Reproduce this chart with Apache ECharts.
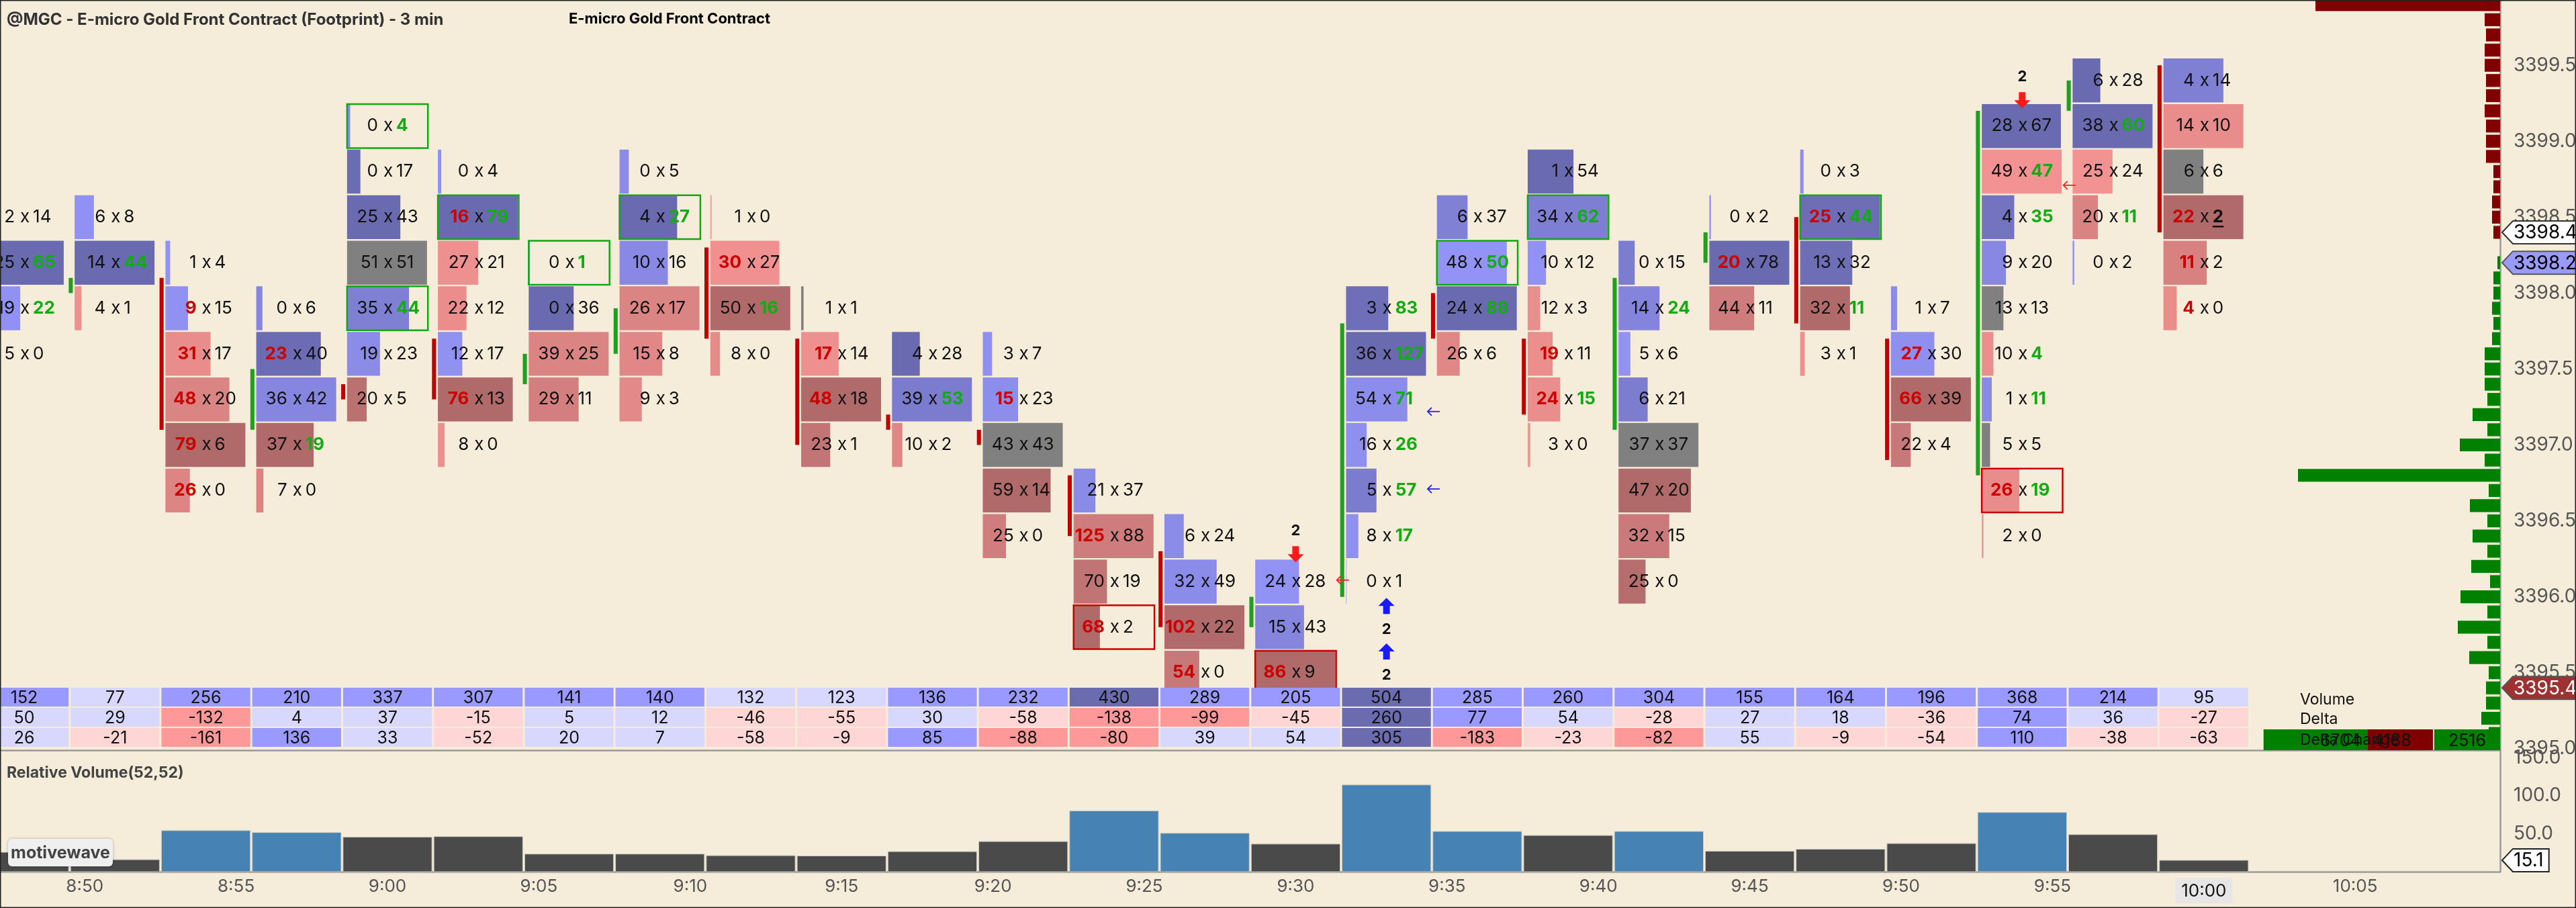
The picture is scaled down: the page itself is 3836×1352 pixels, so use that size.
<!DOCTYPE html>
<html>
<head>
<meta charset="utf-8">
<title>@MGC Footprint - 3 min</title>
<script src="https://cdn.jsdelivr.net/npm/echarts@6.0.0/dist/echarts.min.js"></script>
<style>
  html, body { margin: 0; padding: 0; background: #f5ecda; }
  #chart { width: 3836px; height: 1352px; }
</style>
</head>
<body>
<div id="chart"></div>
<script>
// 3 minute bars, minutes after midnight (8:48 ... 10:00)
const barTimes = [528, 531, 534, 537, 540, 543, 546, 549, 552, 555, 558, 561, 564,
  567, 570, 573, 576, 579, 582, 585, 588, 591, 594, 597, 600];

// price of the top footprint row of every bar (rows are 0.3 apart)
const rowTop = [3398.5, 3398.5, 3398.2, 3397.9, 3399.1, 3398.8, 3398.2, 3398.8, 3398.5,
  3397.9, 3397.6, 3397.6, 3396.7, 3396.4, 3396.1, 3397.9, 3398.5, 3398.8, 3398.2,
  3398.5, 3398.8, 3397.9, 3399.1, 3399.4, 3399.4];

// bid x ask per row, top to bottom
const footprint = [
  [[2, 14], [25, 65], [19, 22], [5, 0]],
  [[6, 8], [14, 44], [4, 1]],
  [[1, 4], [9, 15], [31, 17], [48, 20], [79, 6], [26, 0]],
  [[0, 6], [23, 40], [36, 42], [37, 19], [7, 0]],
  [[0, 4], [0, 17], [25, 43], [51, 51], [35, 44], [19, 23], [20, 5]],
  [[0, 4], [16, 79], [27, 21], [22, 12], [12, 17], [76, 13], [8, 0]],
  [[0, 1], [0, 36], [39, 25], [29, 11]],
  [[0, 5], [4, 27], [10, 16], [26, 17], [15, 8], [9, 3]],
  [[1, 0], [30, 27], [50, 16], [8, 0]],
  [[1, 1], [17, 14], [48, 18], [23, 1]],
  [[4, 28], [39, 53], [10, 2]],
  [[3, 7], [15, 23], [43, 43], [59, 14], [25, 0]],
  [[21, 37], [125, 88], [70, 19], [68, 2]],
  [[6, 24], [32, 49], [102, 22], [54, 0]],
  [[24, 28], [15, 43], [86, 9]],
  [[3, 83], [36, 127], [54, 71], [16, 26], [5, 57], [8, 17], [0, 1]],
  [[6, 37], [48, 50], [24, 88], [26, 6]],
  [[1, 54], [34, 62], [10, 12], [12, 3], [19, 11], [24, 15], [3, 0]],
  [[0, 15], [14, 24], [5, 6], [6, 21], [37, 37], [47, 20], [32, 15], [25, 0]],
  [[0, 2], [20, 78], [44, 11]],
  [[0, 3], [25, 44], [13, 32], [32, 11], [3, 1]],
  [[1, 7], [27, 30], [66, 39], [22, 4]],
  [[28, 67], [49, 47], [4, 35], [9, 20], [13, 13], [10, 4], [1, 11], [5, 5], [26, 19], [2, 0]],
  [[6, 28], [38, 60], [25, 24], [20, 11], [0, 2]],
  [[4, 14], [14, 10], [6, 6], [22, 2], [11, 2], [4, 0]]
];

// open / close of each bar (first bar is off screen)
const barOpen = [null, 3398.0, 3398.1, 3397.1, 3397.4, 3397.7, 3397.4, 3397.6, 3398.3, 3397.7,
  3397.2, 3397.1, 3396.8, 3396.3, 3395.8, 3396.0, 3398.0, 3397.7, 3397.1, 3398.2, 3398.5,
  3397.7, 3396.8, 3399.2, 3399.5];
const barClose = [null, 3398.1, 3397.1, 3397.5, 3397.3, 3397.3, 3397.6, 3397.9, 3397.7, 3397.0,
  3397.1, 3397.0, 3396.4, 3395.8, 3396.0, 3397.8, 3397.7, 3397.2, 3398.1, 3398.4, 3397.8,
  3396.9, 3399.2, 3399.4, 3398.4];

// outlined cells: [bar index, row price]
const greenBoxes = [[4, 3399.1], [4, 3397.9], [5, 3398.5], [6, 3398.2], [7, 3398.5],
  [16, 3398.2], [17, 3398.5], [20, 3398.5]];
const redBoxes = [[12, 3395.8], [14, 3395.5], [22, 3396.7]];

// signal arrows: [bar index, price, direction (1 buy / -1 sell), count]
const signalArrows = [[14, 3396.28, -1, 2], [15, 3395.94, 1, 2], [15, 3395.64, 1, 2], [22, 3399.27, -1, 2]];
// small marks at the right edge of a bar: [bar index, price, side]
const sideMarks = [[14, 3396.11, -1], [15, 3397.22, 1], [15, 3396.71, 1], [22, 3398.71, -1]];

const tableVolume = [152, 77, 256, 210, 337, 307, 141, 140, 132, 123, 136, 232, 430, 289, 205,
  504, 285, 260, 304, 155, 164, 196, 368, 214, 95];
const tableDelta = [50, 29, -132, 4, 37, -15, 5, 12, -46, -55, 30, -58, -138, -99, -45,
  260, 77, 54, -28, 27, 18, -36, 74, 36, -27];
const tableDeltaChange = [26, -21, -161, 136, 33, -52, 20, 7, -58, -9, 85, -88, -80, 39, 54,
  305, -183, -23, -82, 55, -9, -54, 110, -38, -63];
const tableRows = ['Volume', 'Delta', 'Delta Change'];

const relVolume = [25.7, 15.9, 54.2, 51.6, 45.7, 46.3, 23.3, 23.3, 21.2, 20.8, 26.5, 39.8, 80.2,
  50.7, 36.5, 114.4, 53.1, 47.8, 53.1, 27.1, 29.7, 37.2, 78.1, 48.9, 15.1];

// delta profile at 0.1 steps from the top price down
const profileTop = 3399.9;
const profileDelta = [-27.5, -2.3, -2.1, -2.3, -2.3, -2.1, -2.1, -2.3, -2.1, -2.1, -2.1,
  -1.0, -1.0, -1.2, -1.2, -1.0, 0, 0.4, 1.0, 1.0, 1.2, 1.0, 1.2, 2.3, 2.3, 2.3, 1.9, 4.1,
  1.9, 6.0, 2.3, 30.1, 1.7, 4.5, 1.9, 4.1, 1.9, 4.3, 1.5, 5.9, 1.9, 6.3, 1.9, 4.6, 1.7,
  2.1, 2.1, 2.8, 1.7];
const sessionAsk = 6704, sessionBid = 4188, sessionDelta = 2516;

const otherPriceMarks = [3398.2, 3395.4];
const priceTicks = [3395.0, 3395.5, 3396.0, 3396.5, 3397.0, 3397.5, 3398.0, 3398.5, 3399.0, 3399.5];
const relVolTicks = [50, 100, 150];
const timeTicks = [530, 535, 540, 545, 550, 555, 560, 565, 570, 575, 580, 585, 590, 595, 600, 605];

// ---- layout / scales ----
const X_MIN = 527.2, X_MAX = 609.787;
const P_MIN = 3394.99, P_MAX = 3399.93;
const ROW = 0.3, TICK = 0.1, IMB = 2;
const FONT = 'Inter, "Noto Sans", sans-serif';
const PLOT_W = 3723;

const BLUE_L = [148, 148, 248], BLUE_D = [106, 106, 176];
const RED_L = [246, 148, 148], RED_D = [176, 106, 106];

function mix(a, b, t) {
  const c = a.map((v, i) => Math.round(v + (b[i] - v) * t));
  return 'rgb(' + c.join(',') + ')';
}
const measureCtx = document.createElement('canvas').getContext('2d');
function textWidth(text, font) { measureCtx.font = font; return measureCtx.measureText(text).width; }
function hm(v) { const h = Math.floor(v / 60), m = Math.round(v % 60); return h + ':' + (m < 10 ? '0' : '') + m; }

const lastIdx = barTimes.length - 1;
const lastPrice = barClose[lastIdx];

const cellData = [];
footprint.forEach((rows, i) => {
  const colMax = Math.max(...rows.map(r => r[0] + r[1]));
  const maxDelta = Math.max(...rows.map(r => Math.abs(r[1] - r[0])));
  rows.forEach((r, k) => {
    const price = +(rowTop[i] - k * ROW).toFixed(1);
    const above = rows[k - 1], below = rows[k + 1];
    const bidImb = above && r[0] > 0 && r[0] >= IMB * above[1] ? 1 : 0;
    const askImb = below && r[1] > 0 && r[1] >= IMB * below[0] ? 1 : 0;
    const isLast = i === lastIdx && Math.abs(lastPrice - price) < ROW / 2 ? 1 : 0;
    cellData.push([barTimes[i], price, r[0], r[1], (r[0] + r[1]) / colMax,
      maxDelta ? Math.abs(r[1] - r[0]) / maxDelta : 0, bidImb, askImb, isLast]);
  });
});

function renderCell(params, api) {
  const t = api.value(0), p = api.value(1), bid = api.value(2), ask = api.value(3);
  const frac = api.value(4), shade = api.value(5);
  const bidImb = api.value(6), askImb = api.value(7), isLast = api.value(8);
  const c = api.coord([t, p]);
  const colW = api.size([3, 0])[0];
  const rowH = api.size([0, ROW])[1];
  const left = c[0] - 0.445 * colW;
  let fill = '#808080';
  if (ask > bid) fill = mix(BLUE_L, BLUE_D, shade);
  else if (bid > ask) fill = mix(RED_L, RED_D, shade);
  const txt = (s, x, align, color, bold) => ({
    type: 'text',
    style: { text: s, x: x, y: c[1], align: align, verticalAlign: 'middle', fill: color,
      fontSize: 26, fontFamily: FONT, fontWeight: bold ? 'bold' : 'normal' }
  });
  const children = [
    { type: 'rect', shape: { x: left, y: c[1] - rowH / 2 + 1.2, width: frac * 0.88 * colW, height: rowH - 2.4 }, style: { fill: fill } },
    txt(String(bid), c[0] - 14, 'right', bidImb ? '#cc0000' : '#111', bidImb),
    txt('x', c[0] + 1, 'center', '#111', false),
    txt(String(ask), c[0] + 13, 'left', askImb ? '#12ac12' : '#111', askImb || isLast)
  ];
  if (isLast) {
    const w = textWidth(String(ask), 'bold 26px ' + FONT);
    children.push({ type: 'line', shape: { x1: c[0] + 13, y1: c[1] + 14, x2: c[0] + 13 + w, y2: c[1] + 14 }, style: { stroke: '#111', lineWidth: 2.5 } });
  }
  return { type: 'group', children: children };
}

function renderBody(params, api) {
  const t = api.value(0), o = api.value(1), cl = api.value(2);
  const a = api.coord([t, o]), b = api.coord([t, cl]);
  const colW = api.size([3, 0])[0];
  return {
    type: 'rect',
    shape: { x: a[0] - 0.51 * colW, y: Math.min(a[1], b[1]), width: 0.045 * colW, height: Math.max(Math.abs(a[1] - b[1]), 3) },
    style: { fill: cl > o ? '#1fa01f' : cl < o ? '#c00000' : '#808080' }
  };
}

function renderBox(params, api) {
  const c = api.coord([api.value(0), api.value(1)]);
  const colW = api.size([3, 0])[0];
  const rowH = api.size([0, ROW])[1];
  return {
    type: 'rect',
    shape: { x: c[0] - 0.445 * colW, y: c[1] - rowH / 2 + 1.2, width: 0.89 * colW, height: rowH - 2.4 },
    style: { fill: null, stroke: api.value(2) > 0 ? '#12a812' : '#c80000', lineWidth: 2.5 }
  };
}

function renderArrow(params, api) {
  const c = api.coord([api.value(0), api.value(1)]);
  const d = api.value(2);
  const pts = [[-5, -12], [5, -12], [5, 0], [12, 0], [0, 12], [-12, 0], [-5, 0]]
    .map(q => [c[0] + q[0], c[1] - d * q[1]]);
  return {
    type: 'group',
    children: [
      { type: 'polygon', shape: { points: pts }, style: { fill: d > 0 ? '#1a1aff' : '#ff1a1a' } },
      { type: 'text', style: { text: String(api.value(3)), x: c[0], y: c[1] + d * 35, align: 'center', verticalAlign: 'middle',
        fill: '#111', fontSize: 22, fontWeight: 'bold', fontFamily: FONT } }
    ]
  };
}

function renderSideMark(params, api) {
  const colW = api.size([3, 0])[0];
  const c = api.coord([api.value(0), api.value(1)]);
  const x = c[0] + 0.52 * colW, y = c[1];
  const color = api.value(2) > 0 ? '#2020ff' : '#ff2020';
  return {
    type: 'group',
    children: [
      { type: 'line', shape: { x1: x - 9, y1: y, x2: x + 9, y2: y }, style: { stroke: color, lineWidth: 1.8 } },
      { type: 'polyline', shape: { points: [[x - 3, y - 6], [x - 9, y], [x - 3, y + 6]] }, style: { stroke: color, lineWidth: 1.8, fill: null } }
    ]
  };
}

function markerShape(x, y, text, fill, stroke, color) {
  const font = '28px ' + FONT;
  const w = textWidth(text, font) + 28;
  return {
    type: 'group',
    children: [
      { type: 'polygon', shape: { points: [[x + 3, y], [x + 19, y - 17], [x + w, y - 17], [x + w, y + 17], [x + 19, y + 17]] },
        style: { fill: fill, stroke: stroke, lineWidth: 2 } },
      { type: 'text', style: { text: text, x: x + 20, y: y + 1, align: 'left', verticalAlign: 'middle', fill: color, fontSize: 28, fontFamily: FONT } }
    ]
  };
}
function renderPriceMark(params, api) {
  const c = api.coord([X_MAX, api.value(1)]);
  const kind = api.value(2);
  const text = api.value(1).toFixed(1);
  if (kind === 0) return markerShape(c[0], c[1], text, '#ffffff', '#333', '#000');
  if (kind === 1) return markerShape(c[0], c[1], text, '#9a9af8', '#555', '#000');
  return markerShape(c[0], c[1], text, '#9e3232', '#555', '#fff');
}

function renderProfile(params, api) {
  const v = api.value(0), p = api.value(1);
  const a = api.coord([0, p]), b = api.coord([Math.abs(v), p]);
  const h = api.size([0, TICK])[1];
  return {
    type: 'rect',
    shape: { x: b[0], y: a[1] - h / 2 + 1.7, width: a[0] - b[0], height: h - 3.4 },
    style: { fill: v < 0 ? '#800000' : '#008000' }
  };
}

const PALE_BLUE = '#d8d8ff', MID_BLUE = '#9999ff', DARK_BLUE = '#6b6bb0', PALE_RED = '#ffd6d6', MID_RED = '#ff9999';
function volumeColor(v) { return v >= 400 ? DARK_BLUE : v >= 135 ? MID_BLUE : PALE_BLUE; }
function deltaColor(d) {
  if (d >= 200) return DARK_BLUE;
  if (d >= 70) return MID_BLUE;
  if (d >= 0) return PALE_BLUE;
  if (d > -70) return PALE_RED;
  return MID_RED;
}
const tableData = [];
barTimes.forEach((t, i) => {
  tableData.push([t, 0, tableVolume[i]]);
  tableData.push([t, 1, tableDelta[i]]);
  tableData.push([t, 2, tableDeltaChange[i]]);
});
function renderTable(params, api) {
  const t = api.value(0), r = api.value(1), v = api.value(2);
  const a = api.coord([t, r]), b = api.coord([t, r + 1]);
  const colW = api.size([3, 0])[0];
  return {
    type: 'group',
    children: [
      { type: 'rect', shape: { x: a[0] - colW / 2 + 1.5, y: a[1] + 1, width: colW - 3, height: b[1] - a[1] - 2 },
        style: { fill: r === 0 ? volumeColor(v) : deltaColor(v) } },
      { type: 'text', style: { text: String(v), x: a[0], y: (a[1] + b[1]) / 2 + 1, align: 'center', verticalAlign: 'middle',
        fill: '#111', fontSize: 25, fontFamily: FONT } }
    ]
  };
}
function renderTotals(params, api) {
  const ask = api.value(2), bid = api.value(3), delta = api.value(4);
  const top = api.coord([X_MAX, 2]), bot = api.coord([X_MAX, 3]);
  const colW = api.size([3, 0])[0];
  const right = top[0];
  const deltaW = 0.725 * colW, pairW = 1.865 * colW;
  const askW = pairW * ask / (ask + bid);
  const y0 = top[1] + 3, y1 = bot[1] + 4;
  const dLeft = right - deltaW, bLeft = dLeft - 2 - (pairW - askW), aLeft = bLeft - askW;
  const t = (s, x, align) => ({ type: 'text', style: { text: s, x: x, y: (y0 + y1) / 2 + 2, align: align, verticalAlign: 'middle', fill: '#111', fontSize: 25, fontFamily: FONT } });
  return {
    type: 'group',
    children: [
      { type: 'rect', shape: { x: aLeft, y: y0, width: askW, height: y1 - y0 }, style: { fill: '#008000' } },
      { type: 'rect', shape: { x: bLeft, y: y0, width: pairW - askW, height: y1 - y0 }, style: { fill: '#800000' } },
      { type: 'rect', shape: { x: dLeft, y: y0, width: deltaW, height: y1 - y0 }, style: { fill: delta >= 0 ? '#008000' : '#800000' } },
      t(String(ask), bLeft - 10, 'right'),
      t(String(bid), bLeft + 8, 'left'),
      t(String(delta), dLeft + deltaW / 2, 'center')
    ]
  };
}
function renderRelVol(params, api) {
  const t = api.value(0), v = api.value(1);
  const a = api.coord([t, v]), b = api.coord([t, 0]);
  const colW = api.size([3, 0])[0];
  return {
    type: 'rect',
    shape: { x: a[0] - colW / 2 + 1.5, y: a[1], width: colW - 3, height: b[1] - a[1] },
    style: { fill: v >= 50 ? '#4682b4' : '#4a4a4a', stroke: '#c8c8c0', lineWidth: 1 }
  };
}
function renderRelMark(params, api) {
  const c = api.coord([X_MAX, api.value(1)]);
  return markerShape(c[0], c[1], api.value(1).toFixed(1), '#ffffff', '#222', '#000');
}

const option = {
  backgroundColor: '#f5ecda',
  animation: false,
  grid: [
    { left: 0, top: 0, width: PLOT_W, height: 1117, outerBoundsMode: 'none' },
    { left: 0, top: 0, width: PLOT_W, height: 1117, outerBoundsMode: 'none' },
    { left: 0, top: 1023, width: PLOT_W, height: 90, outerBoundsMode: 'none' },
    { left: 0, top: 1117, width: PLOT_W, height: 181, outerBoundsMode: 'none' }
  ],
  xAxis: [
    { type: 'value', gridIndex: 0, min: X_MIN, max: X_MAX, axisLine: { show: true, onZero: false, lineStyle: { color: '#9a9a9a', width: 2.5 } },
      axisTick: { show: false }, axisLabel: { show: false }, splitLine: { show: false } },
    { type: 'value', gridIndex: 1, min: 0, max: PLOT_W / 10, inverse: true, show: false },
    { type: 'value', gridIndex: 2, min: X_MIN, max: X_MAX, show: false },
    { type: 'value', gridIndex: 3, min: X_MIN, max: X_MAX,
      axisLine: { show: true, onZero: false, lineStyle: { color: '#9a9a9a', width: 2.5 } },
      axisTick: { show: false }, splitLine: { show: false },
      axisLabel: {
        customValues: timeTicks, margin: 9, color: '#555', fontSize: 26, fontFamily: FONT,
        formatter: v => v === barTimes[lastIdx] ? '{hl|' + hm(v) + '}' : hm(v),
        rich: { hl: { backgroundColor: '#e6e6e6', color: '#111', fontSize: 26, fontFamily: FONT, padding: [7, 9, 5, 9], borderRadius: 4 } }
      } }
  ],
  yAxis: [
    { type: 'value', gridIndex: 0, position: 'right', min: P_MIN, max: P_MAX,
      axisLine: { show: true, lineStyle: { color: '#9a9a9a', width: 2.5 } }, axisTick: { show: false }, splitLine: { show: false },
      axisLabel: { customValues: priceTicks, formatter: v => v.toFixed(1), color: '#555', fontSize: 28, margin: 20, fontFamily: FONT } },
    { type: 'value', gridIndex: 1, min: P_MIN, max: P_MAX, show: false },
    { type: 'value', gridIndex: 2, min: 0, max: 3, inverse: true, show: false },
    { type: 'value', gridIndex: 3, position: 'right', min: 0, max: 160.2,
      axisLine: { show: true, lineStyle: { color: '#9a9a9a', width: 2.5 } }, axisTick: { show: false }, splitLine: { show: false },
      axisLabel: { customValues: relVolTicks, formatter: v => v.toFixed(1), color: '#555', fontSize: 28, margin: 20, fontFamily: FONT } }
  ],
  series: [
    { type: 'custom', name: 'profile', xAxisIndex: 1, yAxisIndex: 1, clip: true, silent: true, z: 1,
      renderItem: renderProfile, data: profileDelta.map((v, i) => [v, +(profileTop - i * TICK).toFixed(1)]) },
    { type: 'custom', name: 'footprint', xAxisIndex: 0, yAxisIndex: 0, silent: true, z: 2,
      renderItem: renderCell, data: cellData },
    { type: 'custom', name: 'body', xAxisIndex: 0, yAxisIndex: 0, silent: true, z: 3,
      renderItem: renderBody, data: barTimes.map((t, i) => [t, barOpen[i], barClose[i]]).filter(d => d[1] !== null) },
    { type: 'custom', name: 'boxes', xAxisIndex: 0, yAxisIndex: 0, silent: true, z: 4,
      renderItem: renderBox, data: greenBoxes.map(b => [barTimes[b[0]], b[1], 1]).concat(redBoxes.map(b => [barTimes[b[0]], b[1], -1])) },
    { type: 'custom', name: 'signals', xAxisIndex: 0, yAxisIndex: 0, silent: true, z: 5,
      renderItem: renderArrow, data: signalArrows.map(s => [barTimes[s[0]], s[1], s[2], s[3]]) },
    { type: 'custom', name: 'marks', xAxisIndex: 0, yAxisIndex: 0, silent: true, z: 5,
      renderItem: renderSideMark, data: sideMarks.map(s => [barTimes[s[0]], s[1], s[2]]) },
    { type: 'custom', name: 'table', xAxisIndex: 2, yAxisIndex: 2, silent: true, z: 6,
      renderItem: renderTable, data: tableData },
    { type: 'custom', name: 'totals', xAxisIndex: 2, yAxisIndex: 2, silent: true, z: 6,
      renderItem: renderTotals, data: [[X_MAX, 2, sessionAsk, sessionBid, sessionDelta]] },
    { type: 'custom', name: 'relvol', xAxisIndex: 3, yAxisIndex: 3, silent: true, z: 2,
      renderItem: renderRelVol, data: barTimes.map((t, i) => [t, relVolume[i]]) },
    { type: 'custom', name: 'relmark', xAxisIndex: 3, yAxisIndex: 3, silent: true, z: 10,
      renderItem: renderRelMark, data: [[X_MAX, relVolume[lastIdx]]] },
    { type: 'custom', name: 'pricemarks', xAxisIndex: 0, yAxisIndex: 0, silent: true, z: 10,
      renderItem: renderPriceMark, data: [[X_MAX, lastPrice, 0]].concat(otherPriceMarks.map((p, i) => [X_MAX, p, i + 1])) }
  ],
  graphic: [
    { type: 'text', z: 100, style: { text: '@MGC - E-micro Gold Front Contract (Footprint) - 3 min', x: 10, y: 30, align: 'left', verticalAlign: 'middle',
      fill: '#333', fontSize: 24, fontWeight: 'bold', fontFamily: FONT } },
    { type: 'text', z: 100, style: { text: 'E-micro Gold Front Contract', x: 997, y: 28, align: 'center', verticalAlign: 'middle',
      fill: '#000', fontSize: 22, fontWeight: 'bold', fontFamily: FONT } },
    { type: 'text', z: 100, style: { text: 'Relative Volume(52,52)', x: 10, y: 1151, align: 'left', verticalAlign: 'middle',
      fill: '#444', fontSize: 23, fontWeight: 'bold', fontFamily: FONT } },
    { type: 'rect', z: 100, shape: { x: 12, y: 1249, width: 156, height: 41, r: 6 },
      style: { fill: '#efefef', shadowBlur: 4, shadowColor: 'rgba(0,0,0,0.25)' } },
    { type: 'text', z: 101, style: { text: 'motivewave', x: 90, y: 1270, align: 'center', verticalAlign: 'middle',
      fill: '#444', fontSize: 25, fontWeight: 'bold', fontFamily: FONT } },
    { type: 'text', z: 100, style: { text: tableRows[0], x: 3425, y: 1042, align: 'left', verticalAlign: 'middle', fill: '#111', fontSize: 23, fontFamily: FONT } },
    { type: 'text', z: 100, style: { text: tableRows[1], x: 3425, y: 1071, align: 'left', verticalAlign: 'middle', fill: '#111', fontSize: 23, fontFamily: FONT } },
    { type: 'text', z: 100, style: { text: tableRows[2], x: 3425, y: 1102, align: 'left', verticalAlign: 'middle', fill: '#111', fontSize: 23, fontFamily: FONT } },
    { type: 'rect', z: 100, shape: { x: 0.75, y: 0.75, width: 3834.5, height: 1350.5 }, style: { fill: null, stroke: '#222', lineWidth: 1.5 } }
  ]
};

const chart = echarts.init(document.getElementById('chart'));
chart.setOption(option);
</script>
</body>
</html>
